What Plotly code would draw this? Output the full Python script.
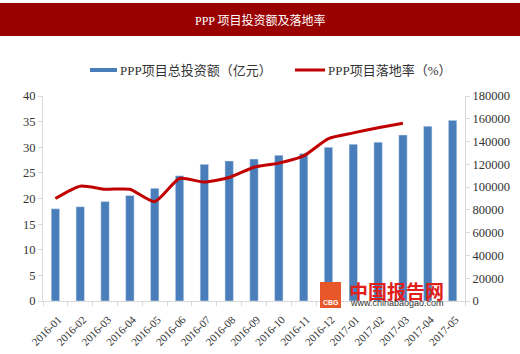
import plotly.graph_objects as go

months = ["2016-01", "2016-02", "2016-03", "2016-04", "2016-05", "2016-06",
          "2016-07", "2016-08", "2016-09", "2016-10", "2016-11", "2016-12",
          "2017-01", "2017-02", "2017-03", "2017-04", "2017-05"]
investment = [81000, 82800, 87300, 92700, 99000, 110000, 120000, 123000, 124600,
              128000, 129600, 135000, 137700, 139500, 145800, 153500, 158600]
landing_rate = [20.0, 22.4, 21.8, 21.8, 19.4, 23.9, 23.2, 24.1, 26.1,
                26.9, 28.3, 31.7, 32.8, 33.8, 34.7]

title_text = "PPP 项目投资额及落地率"
bar_name = "PPP项目总投资额（亿元）"
line_name = "PPP项目落地率（%）"

bar_color = "#4A7EBB"
line_color = "#C00000"
axis_color = "#D9D9D9"
font_fam = "Liberation Serif, Noto Sans CJK SC, serif"

W, H = 520, 354
ml, mr, mt, mb = 43, 55, 96, 53
pw, ph = W - ml - mr, H - mt - mb


def px(x):
    return (x - ml) / pw


def py(y):
    return (H - mb - y) / ph


fig = go.Figure()
fig.add_trace(go.Bar(x=months, y=investment, name=bar_name, marker_color=bar_color,
                     yaxis="y", showlegend=False))
fig.add_trace(go.Scatter(x=months[:len(landing_rate)], y=landing_rate, name=line_name,
                         mode="lines", line=dict(color=line_color, width=3, shape="spline",
                                                 smoothing=0.6),
                         yaxis="y2", showlegend=False))

shapes = [
    dict(type="rect", xref="paper", yref="paper", x0=px(0), x1=px(W), y0=py(36), y1=py(3),
         fillcolor="#990000", line=dict(width=0), layer="below"),
    # legend swatches
    dict(type="rect", xref="paper", yref="paper", x0=px(90), x1=px(117), y0=py(72), y1=py(68),
         fillcolor=bar_color, line=dict(width=0)),
    dict(type="rect", xref="paper", yref="paper", x0=px(295), x1=px(325), y0=py(71.5), y1=py(68.5),
         fillcolor=line_color, line=dict(width=0)),
    # watermark logo
    dict(type="rect", xref="paper", yref="paper", x0=px(320), x1=px(341), y0=py(308), y1=py(282),
         fillcolor="#E8572A", line=dict(width=0)),
]

annotations = [
    dict(text=title_text, xref="paper", yref="paper", x=px(260), y=py(21), showarrow=False,
         font=dict(color="white", size=12, family=font_fam), xanchor="center", yanchor="middle"),
    dict(text=bar_name, xref="paper", yref="paper", x=px(118), y=py(70), showarrow=False,
         font=dict(color="#333333", size=13, family=font_fam), xanchor="left", yanchor="middle"),
    dict(text=line_name, xref="paper", yref="paper", x=px(326), y=py(70), showarrow=False,
         font=dict(color="#333333", size=13, family=font_fam), xanchor="left", yanchor="middle"),
    dict(text="<b>中国报告网</b>", xref="paper", yref="paper", x=px(347), y=py(290), showarrow=False,
         font=dict(color="#E0201A", size=19, family="Noto Sans CJK SC"), xanchor="left",
         yanchor="middle"),
    dict(text="www.chinabaogao.com", xref="paper", yref="paper", x=px(348), y=py(303),
         showarrow=False, font=dict(color="#333333", size=9, family="Liberation Sans"),
         xanchor="left", yanchor="middle"),
    dict(text="<b>CBG</b>", xref="paper", yref="paper", x=px(330.5), y=py(302), showarrow=False,
         font=dict(color="white", size=7, family="Liberation Sans"), xanchor="center",
         yanchor="middle"),
]

fig.update_layout(
    width=W, height=H,
    margin=dict(l=ml, r=mr, t=mt, b=mb),
    paper_bgcolor="white", plot_bgcolor="white",
    font=dict(family=font_fam, size=11, color="#333333"),
    bargap=0.66,
    shapes=shapes, annotations=annotations,
    xaxis=dict(type="category", showline=True, linecolor=axis_color, linewidth=1,
               ticks="outside", tickcolor=axis_color, ticklen=4, tickson="boundaries",
               tickangle=-45, tickfont=dict(size=11, family=font_fam), showgrid=False,
               ticklabelstandoff=7, ticklabelshift=3, automargin=False,
               range=[-0.5, len(months) - 0.5]),
    yaxis=dict(side="right", range=[0, 180000], dtick=20000, showgrid=False, zeroline=False,
               showline=True, linecolor=axis_color, ticks="outside", tickcolor=axis_color,
               ticklen=4, tickfont=dict(size=12.5, family=font_fam), tickformat="d",
               automargin=False),
    yaxis2=dict(side="left", overlaying="y", range=[0, 40], dtick=5, showgrid=False,
                zeroline=False, showline=True, linecolor=axis_color, ticks="outside",
                tickcolor=axis_color, ticklen=4, tickfont=dict(size=12.5, family=font_fam),
                automargin=False),
)

fig.write_html("out.html")
